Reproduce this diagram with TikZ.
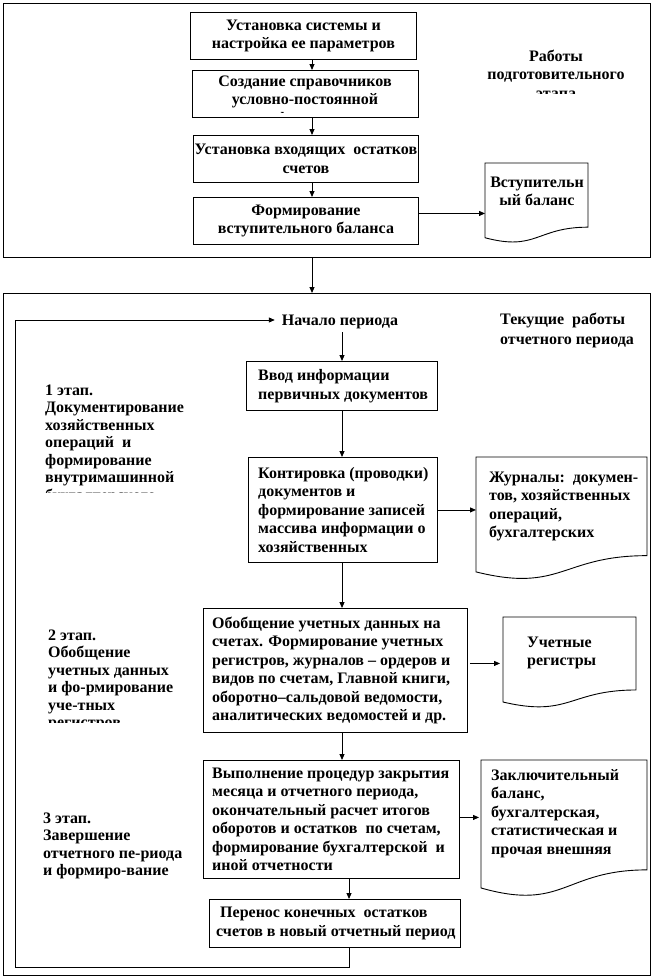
\documentclass[tikz,border=0pt]{standalone}
\usepackage{fontspec}
\setmainfont{Liberation Serif}
\usetikzlibrary{arrows.meta}
\newcommand\docpath[4]{% x0, y0, x1, h
  \draw[boxline] (#1,#2) -- (#3,#2) -- (#3,{#2+0.802*#4})
    .. controls ({(#1+#3)/2},{#2+0.802*#4}) and ({(#1+#3)/2},{#2+1.107*#4}) .. (#1,{#2+0.934*#4}) -- cycle;}
\begin{document}
\begin{tikzpicture}[x=1pt,y=-1pt,
  every node/.style={font=\bfseries\fontsize{16}{18.5}\selectfont},
  boxline/.style={draw=black,line width=0.9pt},
  frame/.style={draw=black,line width=1.1pt,inner sep=0pt,anchor=north west},
  box/.style={draw=black,line width=0.9pt,inner sep=0pt,anchor=north west,align=center},
  ghost/.style={inner sep=0pt,anchor=north west},
  txt/.style={inner sep=0pt,align=left},
  lbl/.style={inner sep=0pt,align=left,anchor=north west,font=\bfseries\fontsize{16}{17.5}\selectfont},
  arr/.style={line width=0.9pt,-{Triangle[length=6pt,width=5pt]}},
  conn/.style={line width=0.9pt}]
\useasboundingbox (0,0) rectangle (653,980);
\fill[white] (0,0) rectangle (653,980);

% frames
\node[frame,minimum width=647pt,minimum height=254pt] (F1) at (3,3) {};
\node[frame,minimum width=647pt,minimum height=682pt] (F2) at (3,293) {};

% column coordinates
\coordinate (ax) at (312,0);
\coordinate (c1) at (342,0);
\coordinate (c2) at (349,0);

% ---------- preparatory stage ----------
\node[box,minimum width=226pt,minimum height=47pt] (B1) at (190,12) {Установка системы и\\настройка ее параметров};
\node[box,minimum width=226pt,minimum height=47pt] (B2) at (192,70) {};
\begin{scope}
  \clip (192,70) rectangle (418,112);
  \node[txt,align=center,anchor=north] (B2t) at (305,73) {\strut Создание справочников\\условно-постоянной\\информации};
\end{scope}
\node[box,minimum width=225pt,minimum height=47pt] (B3) at (193,135) {Установка входящих\ \ остатков\\счетов};
\node[box,minimum width=225pt,minimum height=47pt] (B4) at (193,197) {Формирование\\вступительного баланса};

\draw[arr] (B1.south -| ax) -- (B2.north -| ax);
\draw[arr] (B2.south -| ax) -- (B3.north -| ax);
\draw[arr] (B3.south -| ax) -- (B4.north -| ax);

\begin{scope}
  \clip (480,40) rectangle (640,93);
  \node[txt,align=center,anchor=north] (P1) at (556,48) {\strut Работы\\подготовительного\\этапа};
\end{scope}

\node[ghost,minimum width=103pt,minimum height=75pt] (D1) at (485,163) {};
\docpath{485}{163}{588}{80}
\node[txt,align=center,anchor=north] (D1t) at (537,174) {\strut Вступительн\\ый баланс};
\draw[arr] ([yshift=7.5pt]B4.east) -- ([yshift=7.5pt]B4.east -| D1.west);

\draw[arr] (F1.south -| ax) -- (F2.north -| ax);

% ---------- current period ----------
\node[inner sep=3pt] (start) at (340,322) {Начало периода};
\node[txt,anchor=north west] (P2) at (500,311) {\strut Текущие\ \ работы\\[1.5pt]отчетного периода};

\node[box,minimum width=191pt,minimum height=49pt] (B5) at (246,361) {};
\node[txt,anchor=west] (B5t) at ([xshift=12pt]B5.west) {Ввод информации\\первичных документов};

\node[box,minimum width=189pt,minimum height=105pt] (B6) at (248,457) {};
\node[txt,anchor=west] (B6t) at ([xshift=10pt]B6.west) {Контировка (проводки)\\документов и\\формирование записей\\массива информации о\\хозяйственных};

\node[box,minimum width=264pt,minimum height=124pt] (B7) at (203,608) {};
\node[txt,anchor=west] (B7t) at ([xshift=9pt]B7.west) {Обобщение учетных данных на\\счетах. Формирование учетных\\регистров, журналов – ордеров и\\видов по счетам, Главной книги,\\оборотно–сальдовой ведомости,\\аналитических ведомостей и др.};

\node[box,minimum width=256pt,minimum height=118pt] (B8) at (203,760) {};
\node[txt,anchor=west] (B8t) at ([xshift=9pt]B8.west) {Выполнение процедур закрытия\\месяца и отчетного периода,\\окончательный расчет итогов\\оборотов и остатков\ \ по счетам,\\формирование бухгалтерской\ \ и\\иной отчетности};

\node[box,minimum width=251pt,minimum height=48pt] (B9) at (209,899) {};
\node[txt,anchor=west] (B9t) at ([xshift=7pt]B9.west) {\ Перенос конечных\ \ остатков\\счетов в новый отчетный период};

% documents
\node[ghost,minimum width=171pt,minimum height=115pt] (D2) at (476,457) {};
\docpath{476}{457}{647}{123}
\node[txt,anchor=north west] (D2t) at (489,469) {\strut Журналы:\ \ докумен-\\тов, хозяйственных\\операций,\\бухгалтерских};

\node[ghost,minimum width=133pt,minimum height=85pt] (D3) at (503,617) {};
\docpath{503}{617}{636}{91}
\node[txt,anchor=north west] (D3t) at (527,634) {\strut Учетные\\регистры};

\node[ghost,minimum width=166pt,minimum height=128pt] (D4) at (481,760) {};
\docpath{481}{760}{647}{137}
\node[txt,anchor=north west] (D4t) at (491,767) {\strut Заключительный\\баланс,\\бухгалтерская,\\статистическая и\\прочая внешняя};

% stage labels
\begin{scope}
  \clip (30,370) rectangle (200,492);
  \node[lbl] (L1) at (45,383) {\strut 1 этап.\\Документирование\\хозяйственных\\операций\ \ и\\формирование\\внутримашинной\\бухгалтерского};
\end{scope}
\begin{scope}
  \clip (30,620) rectangle (200,722);
  \node[lbl] (L2) at (48,628) {\strut 2 этап.\\Обобщение\\учетных данных\\и фо-рмирование\\уче-тных\\регистров};
\end{scope}
\node[lbl] (L3) at (43,811) {\strut 3 этап.\\Завершение\\отчетного пе-риода\\и формиро-вание};

% connectors
\draw[arr] (start.south -| c1) -- (B5.north -| c1);
\draw[arr] (B5.south -| c1) -- (B6.north -| c1);
\draw[arr] (B6.south -| c1) -- (B7.north -| c1);
\draw[arr] (B7.south -| c1) -- (B8.north -| c1);
\draw[arr] (B8.south -| c2) -- (B9.north -| c2);

\draw[arr] (B6.east) -- (B6.east -| D2.west);
\draw[arr,shorten <=2pt,shorten >=3pt] ([yshift=7pt]B7.east) -- ([yshift=7pt]B7.east -| D3.west);
\draw[arr,shorten >=2pt] ([yshift=2pt]B8.east) -- ([yshift=2pt]B8.east -| D4.west);

\coordinate (lp) at (349,967);
\coordinate (lq) at (15,967);
\coordinate (lr) at (15,320);
\draw[arr,shorten >=4pt] (B9.south -| lp) -- (lp) -- (lq) -- (lr) -- (lr -| start.west);
\end{tikzpicture}
\end{document}
